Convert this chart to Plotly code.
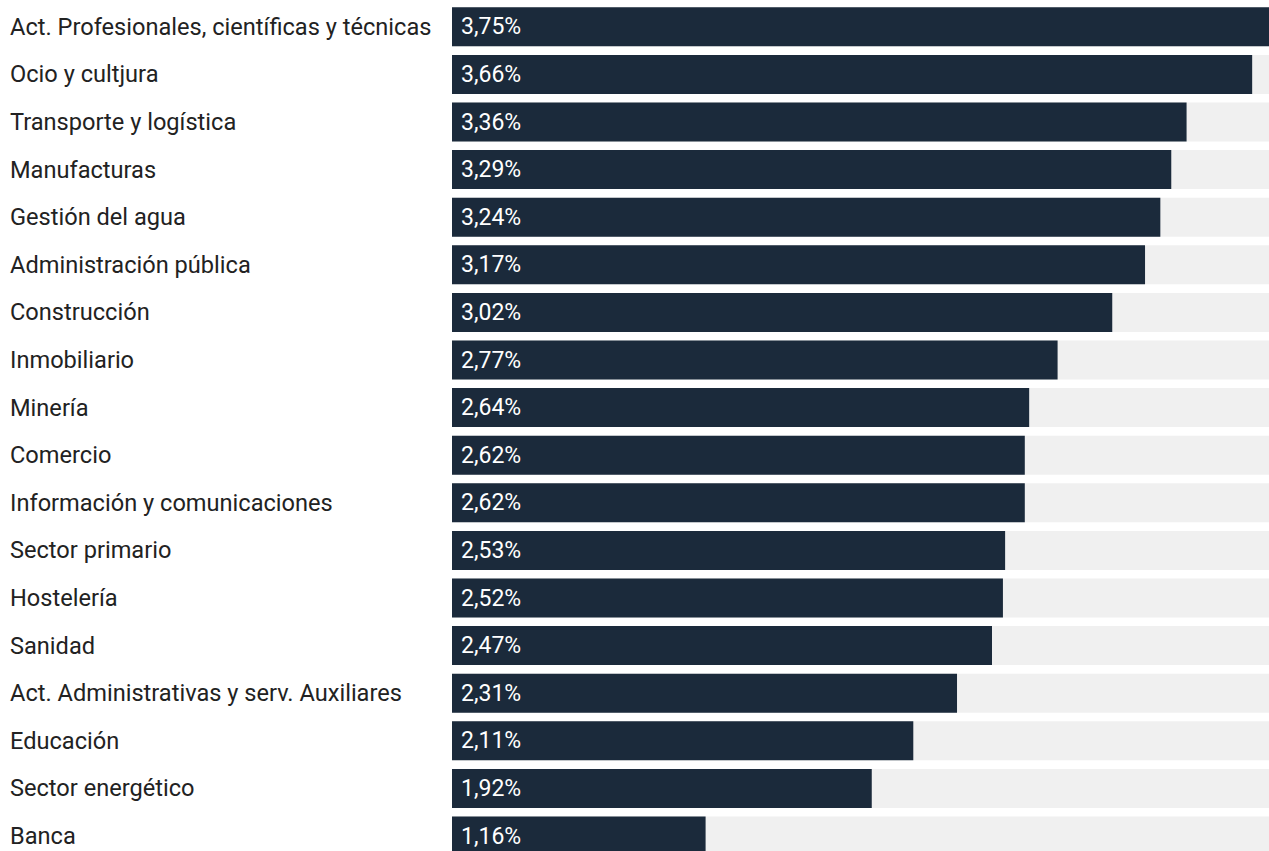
import plotly.graph_objects as go

categories = [
    "Act. Profesionales, científicas y técnicas",
    "Ocio y cultjura",
    "Transporte y logística",
    "Manufacturas",
    "Gestión del agua",
    "Administración pública",
    "Construcción",
    "Inmobiliario",
    "Minería",
    "Comercio",
    "Información y comunicaciones",
    "Sector primario",
    "Hostelería",
    "Sanidad",
    "Act. Administrativas y serv. Auxiliares",
    "Educación",
    "Sector energético",
    "Banca",
]
values = [3.75, 3.66, 3.36, 3.29, 3.24, 3.17, 3.02, 2.77, 2.64, 2.62, 2.62, 2.53, 2.52, 2.47, 2.31, 2.11, 1.92, 1.16]
value_labels = [f"{v:.2f}".replace(".", ",") + "%" for v in values]

W, H = 1269, 851
left = 452
xmax = 3.737
track_max = 10

idx = list(range(len(categories)))

fig = go.Figure()
fig.add_trace(go.Bar(
    y=idx, x=[track_max] * len(idx), orientation="h",
    marker=dict(color="#f0f0f0", line=dict(width=0)),
    hoverinfo="skip", showlegend=False,
))
fig.add_trace(go.Bar(
    y=idx, x=values, orientation="h",
    marker=dict(color="#1b2a3b", line=dict(width=0)),
    showlegend=False,
))

annotations = []
plot_w = W - left
for i, (c, lab) in enumerate(zip(categories, value_labels)):
    annotations.append(dict(
        xref="paper", yref="y", x=-(left - 8) / plot_w, y=i,
        text=c, showarrow=False, xanchor="left", yanchor="middle",
        font=dict(family="Roboto", size=23.6, color="#222222"),
    ))
    annotations.append(dict(
        xref="x", yref="y", x=0, y=i, xshift=7,
        text=lab, showarrow=False, xanchor="left", yanchor="middle",
        font=dict(family="Roboto", size=23, color="#ffffff"),
    ))

pitch = 47.6
top_m = 3
plot_h = H - top_m
span = plot_h / pitch

fig.update_layout(
    width=W, height=H,
    margin=dict(l=left, r=0, t=top_m, b=0, pad=0),
    paper_bgcolor="white", plot_bgcolor="white",
    barmode="overlay", bargap=0.18,
    xaxis=dict(range=[0, xmax], visible=False, fixedrange=True),
    yaxis=dict(range=[-0.5 + span, -0.5], visible=False, fixedrange=True),
    annotations=annotations,
    font=dict(family="Roboto"),
)

fig.write_html("out.html", config={"displayModeBar": False})
